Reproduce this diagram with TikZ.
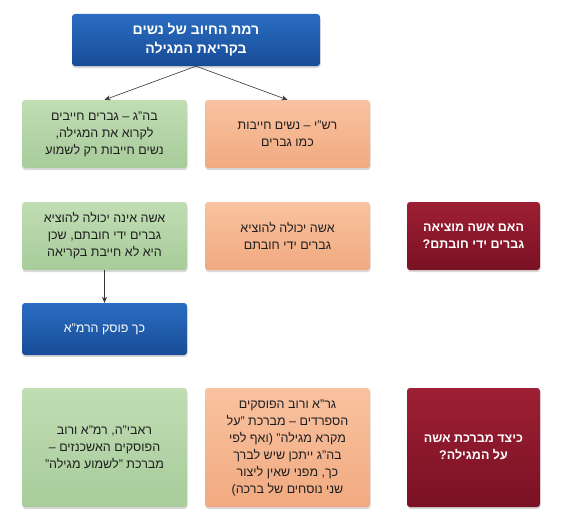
\documentclass[tikz,border=0pt]{standalone}
\usepackage{fontspec}
\newfontfamily\hebfont[Script=Hebrew]{Liberation Sans}
\TeXXeTstate=1
\usetikzlibrary{arrows.meta,shadows}
\definecolor{bluetop}{HTML}{2B6DC2}
\definecolor{bluebot}{HTML}{174C97}
\definecolor{greentop}{HTML}{C0DDB4}
\definecolor{greenbot}{HTML}{A8CC9A}
\definecolor{orangetop}{HTML}{F9C2A0}
\definecolor{orangebot}{HTML}{F1AA80}
\definecolor{redtop}{HTML}{9E1F33}
\definecolor{redbot}{HTML}{7A1124}
\definecolor{textdark}{HTML}{1E1E1E}
\definecolor{arrowgray}{HTML}{333333}
\newcommand{\hebline}[1]{\beginR#1\endR}

\begin{document}
\begin{tikzpicture}[%
  x=1pt, y=-1pt,
  box/.style={rectangle, rounded corners=3pt, align=center, inner sep=2pt,
    minimum width=165pt, minimum height=68pt,
    drop shadow={opacity=0.3, shadow xshift=0.5pt, shadow yshift=-2pt}},
  greenbox/.style={box, top color=greentop, bottom color=greenbot, text=textdark,
    font=\hebfont\fontsize{12.5}{17}\selectfont},
  orangebox/.style={box, top color=orangetop, bottom color=orangebot, text=textdark,
    font=\hebfont\fontsize{12.5}{17}\selectfont},
  redbox/.style={box, minimum width=133pt, top color=redtop, bottom color=redbot, text=white,
    font=\hebfont\bfseries\fontsize{12.5}{17}\selectfont},
  bluebox/.style={box, minimum height=52pt, top color=bluetop, bottom color=bluebot, text=white,
    font=\hebfont\fontsize{12.5}{17}\selectfont},
  arr/.style={-{Stealth[length=6pt,width=5pt]}, draw=arrowgray, line width=0.6pt},]
  \useasboundingbox (0,0) rectangle (561,527);
  % top
  \node[bluebox, minimum width=248pt, font=\hebfont\bfseries\fontsize{14}{19}\selectfont] (title) at (196,40)
    {\hebline{רמת החיוב של נשים}\\\hebline{בקריאת המגילה}};
  % row 1
  \node[greenbox] (bahag) at (104.5,134)
    {\hebline{בה”ג – גברים חייבים}\\\hebline{לקרוא את המגילה,}\\\hebline{נשים חייבות רק לשמוע}};
  \node[orangebox] (rashi) at (287.5,134)
    {\hebline{רש”י – נשים חייבות}\\\hebline{כמו גברים}};
  % row 2
  \node[greenbox] (eina) at (104.5,236)
    {\hebline{אשה אינה יכולה להוציא}\\\hebline{גברים ידי חובתם, שכן}\\\hebline{היא לא חייבת בקריאה}};
  \node[orangebox] (yechola) at (287.5,236)
    {\hebline{אשה יכולה להוציא}\\\hebline{גברים ידי חובתם}};
  \node[redbox] (motzia) at (473.5,236)
    {\hebline{האם אשה מוציאה}\\\hebline{גברים ידי חובתם?}};
  \node[bluebox] (rama) at (104.5,329) {\hebline{כך פוסק הרמ”א}};
  % row 3
  \node[greenbox, minimum height=119pt] (lishmoa) at (104.5,447.5)
    {\hebline{ראבי”ה, רמ”א ורוב}\\\hebline{הפוסקים האשכנזים –}\\\hebline{מברכת ”לשמוע מגילה”}};
  \node[orangebox, minimum height=119pt] (mikra) at (287.5,447.5)
    {\hebline{גר”א ורוב הפוסקים}\\\hebline{הספרדים – מברכת ”על}\\\hebline{מקרא מגילה” (ואף לפי}\\
     \hebline{בה”ג ייתכן שיש לברך}\\\hebline{כך, מפני שאין ליצור}\\\hebline{שני נוסחים של ברכה)}};
  \node[redbox, minimum height=119pt] (beracha) at (473.5,447.5)
    {\hebline{כיצד מברכת אשה}\\\hebline{על המגילה?}};
  % arrows
  \draw[arr] (title.south) -- (bahag.north);
  \draw[arr] (title.south) -- (rashi.north);
  \draw[arr] (eina.south) -- (rama.north);
\end{tikzpicture}
\end{document}
